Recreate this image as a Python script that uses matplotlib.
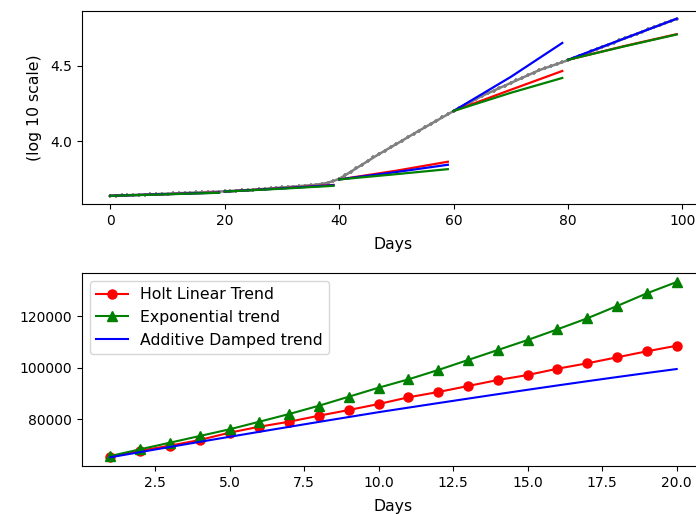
import matplotlib
matplotlib.use("Agg")
import matplotlib.pyplot as plt
import numpy as np

# ---------------- top panel data ----------------
days = list(range(100))
log_cases = [
    3.640, 3.641, 3.643, 3.644, 3.646, 3.647, 3.648, 3.650, 3.651, 3.653,
    3.654, 3.656, 3.657, 3.659, 3.660, 3.662, 3.663, 3.665, 3.666, 3.668,
    3.670, 3.672, 3.674, 3.676, 3.678, 3.680, 3.683, 3.686, 3.689, 3.692,
    3.695, 3.698, 3.701, 3.704, 3.707, 3.710, 3.714, 3.719, 3.726, 3.738,
    3.752, 3.775, 3.798, 3.822, 3.846, 3.869, 3.893, 3.916, 3.938, 3.960,
    3.982, 4.004, 4.026, 4.049, 4.071, 4.092, 4.114, 4.135, 4.157, 4.178,
    4.200, 4.220, 4.240, 4.260, 4.280, 4.300, 4.317, 4.334, 4.351, 4.368,
    4.385, 4.402, 4.419, 4.436, 4.453, 4.470, 4.483, 4.496, 4.509, 4.522,
    4.535, 4.549, 4.564, 4.578, 4.593, 4.607, 4.622, 4.636, 4.651, 4.666,
    4.680, 4.695, 4.709, 4.723, 4.738, 4.752, 4.766, 4.780, 4.795, 4.809,
]

# forecast segments: days at start / middle / end of each 20-day window
seg_days = [[0, 10, 19], [20, 30, 39], [40, 50, 59], [60, 70, 79], [80, 90, 99]]
holt_seg = [[3.640, 3.651, 3.662], [3.668, 3.690, 3.712], [3.748, 3.806, 3.865],
            [4.200, 4.340, 4.464], [4.538, 4.630, 4.707]]
damped_seg = [[3.640, 3.651, 3.661], [3.668, 3.689, 3.710], [3.748, 3.797, 3.845],
              [4.200, 4.425, 4.649], [4.538, 4.681, 4.809]]
expo_seg = [[3.640, 3.650, 3.660], [3.668, 3.687, 3.706], [3.748, 3.783, 3.816],
            [4.200, 4.320, 4.418], [4.538, 4.628, 4.705]]

# ---------------- bottom panel data ----------------
fc_days = list(range(1, 21))
holt_fc = [65360, 67700, 69640, 71850, 74690, 77010, 78950, 81280, 83490, 85820,
           88430, 90480, 92810, 95140, 97080, 99530, 101630, 103960, 106290, 108460]
expo_fc = [65630, 68230, 70800, 73400, 76000, 78950, 81940, 85160, 88660, 92150,
           95400, 99030, 102910, 106790, 110680, 114830, 119100, 123880, 128810, 133200]
damped_fc = [65130, 67150, 69150, 71130, 73090, 75030, 76960, 78880, 80770, 82650,
             84420, 86180, 87920, 89650, 91350, 93030, 94680, 96290, 97870, 99410]

W, H = 696, 514
fig = plt.figure(figsize=(W / 100, H / 100), dpi=100)
LFS = 11.3

ax1 = fig.add_axes([82 / W, 1 - 204 / H, 623 / W, 193.3 / H])
ax1.plot(days, log_cases, color="gray", lw=1.8, marker="+", ms=3.5, mew=1.2)
for sd, h, d, e in zip(seg_days, holt_seg, damped_seg, expo_seg):
    ax1.plot(sd, h, color="red", lw=1.6)
    ax1.plot(sd, d, color="blue", lw=1.6)
    ax1.plot(sd, e, color="green", lw=1.6)
ax1.set_xticks([0, 20, 40, 60, 80, 100])
ax1.set_yticks([4.0, 4.5])
ax1.set_xlim(-4.95, 103.95)
ax1.set_ylim(3.586, 4.862)
ax1.set_xlabel("Days", fontsize=LFS, labelpad=7)
ax1.set_ylabel("(log 10 scale)", fontsize=LFS, labelpad=6)

ax2 = fig.add_axes([82 / W, 1 - 466 / H, 623 / W, 193 / H])
ax2.plot(fc_days, holt_fc, color="red", marker="o", ms=6.5, label="Holt Linear Trend")
ax2.plot(fc_days, expo_fc, color="green", marker="^", ms=6.5, label="Exponential trend")
ax2.plot(fc_days, damped_fc, color="blue", label="Additive Damped trend")
ax2.set_xticks([2.5, 5.0, 7.5, 10.0, 12.5, 15.0, 17.5, 20.0])
ax2.set_yticks([80000, 100000, 120000])
ax2.set_xlim(0.05, 20.95)
ax2.set_ylim(61750, 136700)
ax2.set_xlabel("Days", fontsize=LFS, labelpad=7)
ax2.legend(loc="upper left", fontsize=LFS)

fig.savefig("out.png", dpi=100)
